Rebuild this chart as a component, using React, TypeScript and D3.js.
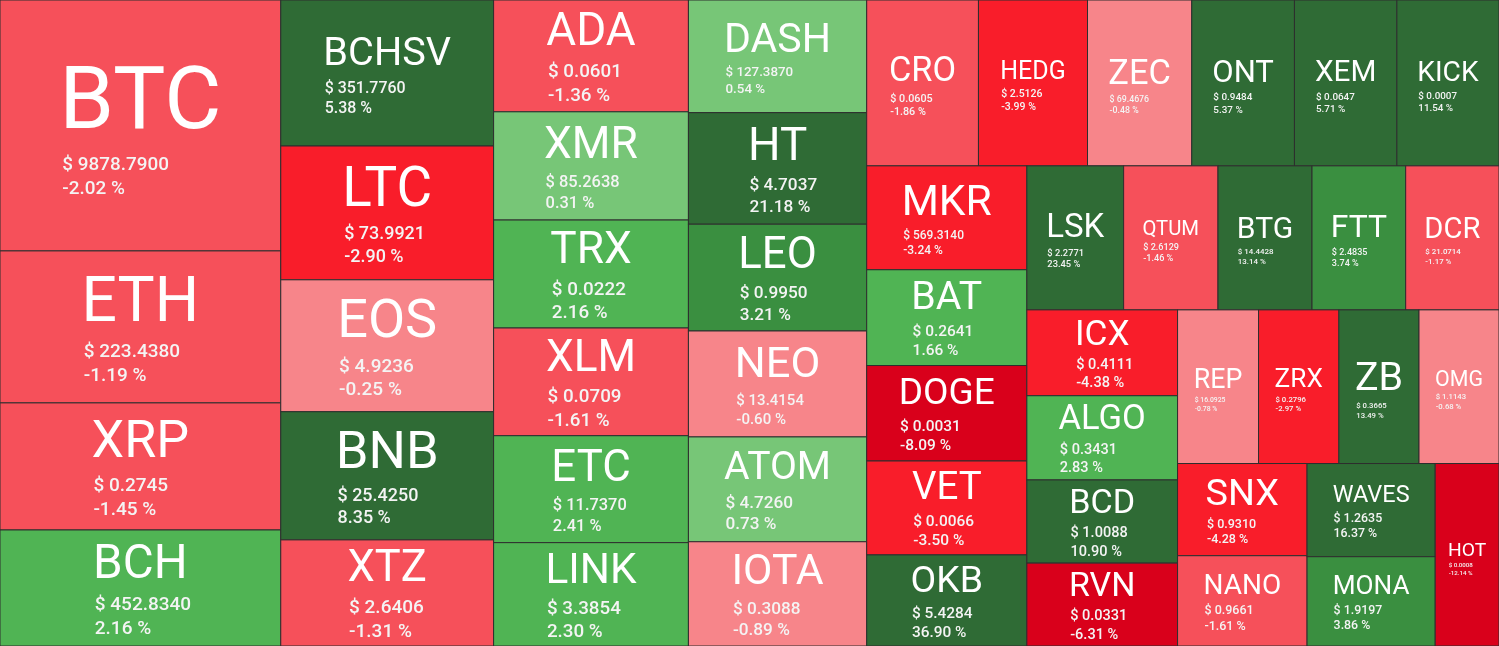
import React, { useMemo } from "react";
import * as d3 from "d3";

const W = 1499;
const H = 646;

const tickers = [
  "BTC", "ETH", "XRP", "BCH",
  "BCHSV", "LTC", "EOS", "BNB", "XTZ",
  "ADA", "XMR", "TRX", "XLM", "ETC", "LINK",
  "DASH", "HT", "LEO", "NEO", "ATOM", "IOTA",
  "CRO", "HEDG", "ZEC", "ONT", "XEM", "KICK",
  "MKR", "BAT", "DOGE", "VET", "OKB",
  "LSK", "QTUM", "BTG", "FTT", "DCR",
  "ICX", "ALGO", "BCD", "RVN",
  "REP", "ZRX", "ZB", "OMG",
  "SNX", "NANO", "WAVES", "MONA", "HOT",
];

const prices = [
  9878.79, 223.438, 0.2745, 452.834,
  351.776, 73.9921, 4.9236, 25.425, 2.6406,
  0.0601, 85.2638, 0.0222, 0.0709, 11.737, 3.3854,
  127.387, 4.7037, 0.995, 13.4154, 4.726, 0.3088,
  0.0605, 2.5126, 69.4676, 0.9484, 0.0647, 0.0007,
  569.314, 0.2641, 0.0031, 0.0066, 5.4284,
  2.2771, 2.6129, 14.4428, 2.4835, 21.0714,
  0.4111, 0.3431, 1.0088, 0.0331,
  16.0925, 0.2796, 0.3665, 1.1143,
  0.931, 0.9661, 1.2635, 1.9197, 0.0008,
];

const changes = [
  -2.02, -1.19, -1.45, 2.16,
  5.38, -2.9, -0.25, 8.35, -1.31,
  -1.36, 0.31, 2.16, -1.61, 2.41, 2.3,
  0.54, 21.18, 3.21, -0.6, 0.73, -0.89,
  -1.86, -3.99, -0.48, 5.37, 5.71, 11.54,
  -3.24, 1.66, -8.09, -3.5, 36.9,
  23.45, -1.46, 13.14, 3.74, -1.17,
  -4.38, 2.83, 10.9, -6.31,
  -0.78, -2.97, 13.49, -0.68,
  -4.28, -1.61, 16.37, 3.86, -12.14,
];

// relative market weight (tile size)
const weights = [
  70500, 42700, 35700, 32600,
  31100, 28500, 28100, 27300, 22600,
  21800, 21100, 21050, 21000, 20850, 20150,
  20100, 19900, 19050, 18900, 18700, 18600,
  18550, 18100, 17300, 17050, 17000, 16950,
  16650, 15350, 15300, 15050, 14600,
  13950, 13600, 13550, 13500, 13450,
  12950, 12700, 12550, 12500,
  12450, 12350, 12320, 12300,
  11950, 11700, 11950, 11450, 11650,
];

const changeThresholds = [-5, -2.5, -1, 0, 1, 3, 5];
const palette = [
  "#D9001B",
  "#F91D2A",
  "#F6505A",
  "#F7858A",
  "#77C677",
  "#50B454",
  "#3A8F40",
  "#2F6B35",
];

const FONT = "Roboto, 'Noto Sans', sans-serif";

let ctx: CanvasRenderingContext2D | null = null;
function measure(text: string, weight: number, size: number): number {
  if (!ctx) ctx = document.createElement("canvas").getContext("2d");
  if (!ctx) return text.length * size * 0.6;
  ctx.font = `${weight} ${size}px Roboto`;
  return ctx.measureText(text).width;
}

type Item = { ticker: string; price: number; change: number; weight: number };

export default function App() {
  const leaves = useMemo(() => {
    const data: Item[] = tickers.map((t, i) => ({
      ticker: t,
      price: prices[i],
      change: changes[i],
      weight: weights[i],
    }));
    const root = d3
      .hierarchy<any>({ children: data })
      .sum((d: any) => d.weight ?? 0);
    d3.treemap<any>().tile(d3.treemapSquarify).size([W, H])(root);
    return root.leaves() as d3.HierarchyRectangularNode<any>[];
  }, []);

  const color = d3
    .scaleThreshold<number, string>()
    .domain(changeThresholds)
    .range(palette);

  return (
    <svg
      width={W}
      height={H}
      style={{ position: "fixed", left: 0, top: 0, display: "block" }}
      fontFamily={FONT}
    >
      {leaves.map((leaf) => {
        const d = leaf.data as Item;
        const w = leaf.x1 - leaf.x0;
        const h = leaf.y1 - leaf.y0;
        const cx = leaf.x0 + w / 2;
        const cy = leaf.y0 + h / 2;
        const tw1 = measure(d.ticker, 400, 100) / 100;
        const F = Math.min((0.6 * w) / tw1, 0.41 * h, 88);
        const priceStr = "$ " + d.price.toFixed(4);
        const pctStr = d.change.toFixed(2) + " %";
        const pw1 = measure(priceStr, 500, 100) / 100;
        const f = Math.min(19, (0.38 * w) / pw1);
        const a = 0.24;
        const b = 1.12;
        const blockH = (0.71 + a) * F + (b + 1.25 + 0.2) * f;
        const capTop = cy - blockH / 2 + 0.025 * h;
        const yt = capTop + 0.71 * F;
        const yp = yt + a * F + b * f;
        const yq = yp + 1.25 * f;
        const left = cx - (tw1 * F) / 2 + 0.035 * F;
        return (
          <g key={d.ticker}>
            <rect
              x={leaf.x0}
              y={leaf.y0}
              width={w}
              height={h}
              fill={color(d.change)}
              stroke="#2e2e2e"
              strokeWidth={1}
            />
            <text
              x={cx}
              y={yt}
              textAnchor="middle"
              fontSize={F}
              fill="#ffffff"
              fontWeight={400}
            >
              {d.ticker}
            </text>
            <text x={left} y={yp} fontSize={f} fill="#f4f4f4" fontWeight={500}>
              {priceStr}
            </text>
            <text x={left} y={yq} fontSize={f} fill="#f4f4f4" fontWeight={500}>
              {pctStr}
            </text>
          </g>
        );
      })}
    </svg>
  );
}
